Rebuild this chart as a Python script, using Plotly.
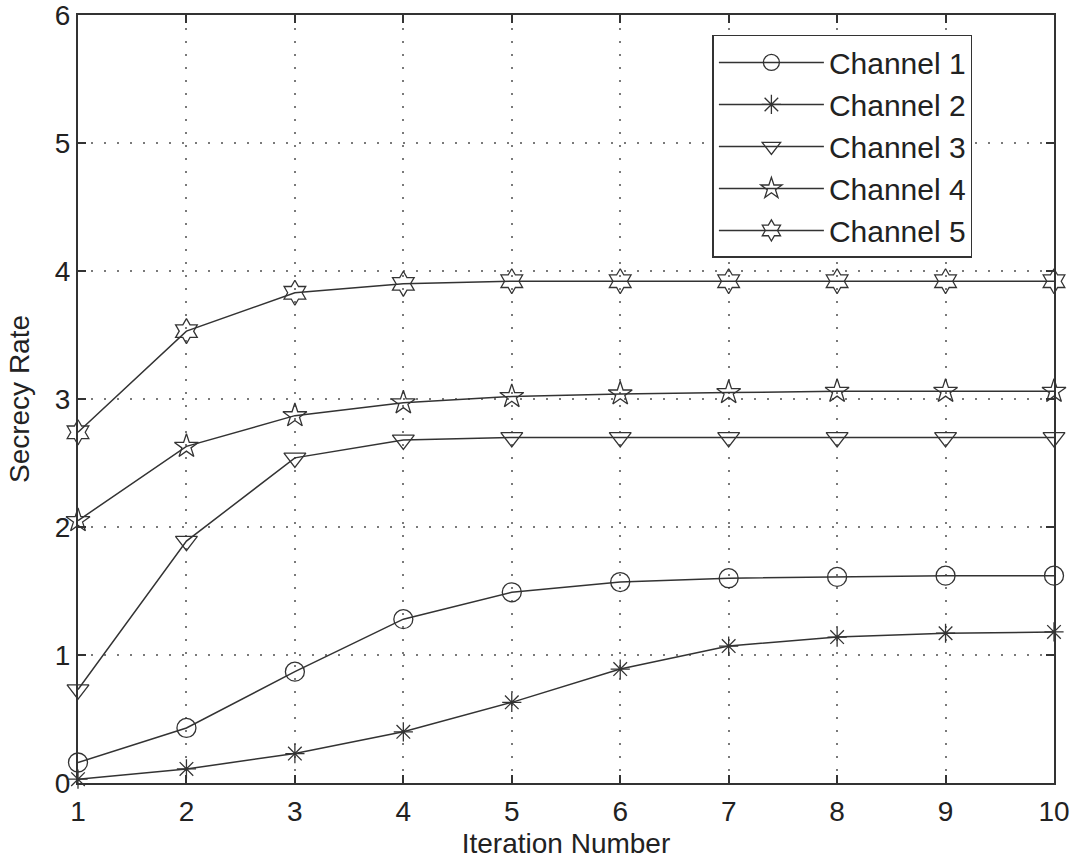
import plotly.graph_objects as go

iterations = [1, 2, 3, 4, 5, 6, 7, 8, 9, 10]

channel_1 = [0.16, 0.43, 0.87, 1.28, 1.49, 1.57, 1.60, 1.61, 1.62, 1.62]
channel_2 = [0.03, 0.11, 0.23, 0.40, 0.63, 0.89, 1.07, 1.14, 1.17, 1.18]
channel_3 = [0.73, 1.89, 2.54, 2.68, 2.70, 2.70, 2.70, 2.70, 2.70, 2.70]
channel_4 = [2.05, 2.63, 2.87, 2.97, 3.02, 3.04, 3.05, 3.06, 3.06, 3.06]
channel_5 = [2.74, 3.53, 3.83, 3.90, 3.92, 3.92, 3.92, 3.92, 3.92, 3.92]

series_names = ["Channel 1", "Channel 2", "Channel 3", "Channel 4", "Channel 5"]
series_values = [channel_1, channel_2, channel_3, channel_4, channel_5]
series_symbols = ["circle-open", "asterisk-open", "triangle-down-open", "star-open", "hexagram-open"]
series_sizes = [19, 16, 19, 18, 19]

x_ticks = [1, 2, 3, 4, 5, 6, 7, 8, 9, 10]
y_ticks = [0, 1, 2, 3, 4, 5, 6]

INK = "#333333"
TEXT = "#222222"
FONT = "Liberation Sans, Arial, Helvetica, sans-serif"

fig = go.Figure()
for name, vals, sym, size in zip(series_names, series_values, series_symbols, series_sizes):
    fig.add_trace(go.Scatter(
        x=iterations, y=vals, name=name, mode="lines+markers",
        line=dict(color=INK, width=1.5),
        marker=dict(symbol=sym, size=size, color=INK, line=dict(color=INK, width=1.3)),
        cliponaxis=False,
    ))

axis_common = dict(
    showline=True, linecolor=INK, linewidth=2, mirror="ticks",
    ticks="inside", ticklen=8, tickwidth=1.5, tickcolor=INK,
    showgrid=True, gridcolor="#7a7a7a", gridwidth=1.5, griddash="1.5px,11.5px",
    zeroline=False, ticklabeloverflow="allow", automargin=False,
    tickfont=dict(family=FONT, size=28, color=TEXT),
)

fig.update_xaxes(
    range=[1, 10], tickvals=x_ticks, ticklabelstandoff=2,
    title=dict(text="Iteration Number", font=dict(family=FONT, size=28, color=TEXT), standoff=8),
    **axis_common,
)
fig.update_yaxes(
    range=[0, 6], tickvals=y_ticks,
    title=dict(text="Secrecy Rate", font=dict(family=FONT, size=28, color=TEXT), standoff=17),
    **axis_common,
)

fig.update_layout(
    width=1075, height=864,
    margin=dict(l=78, r=21, t=15, b=81),
    paper_bgcolor="white", plot_bgcolor="white",
    font=dict(family=FONT, color=TEXT),
    legend=dict(
        x=0.650, y=0.974, xanchor="left", yanchor="top",
        bgcolor="white", bordercolor=INK, borderwidth=1.5,
        font=dict(family=FONT, size=30, color=TEXT),
        itemwidth=105, tracegroupgap=0,
    ),
    showlegend=True,
)

fig.write_html("out.html")
